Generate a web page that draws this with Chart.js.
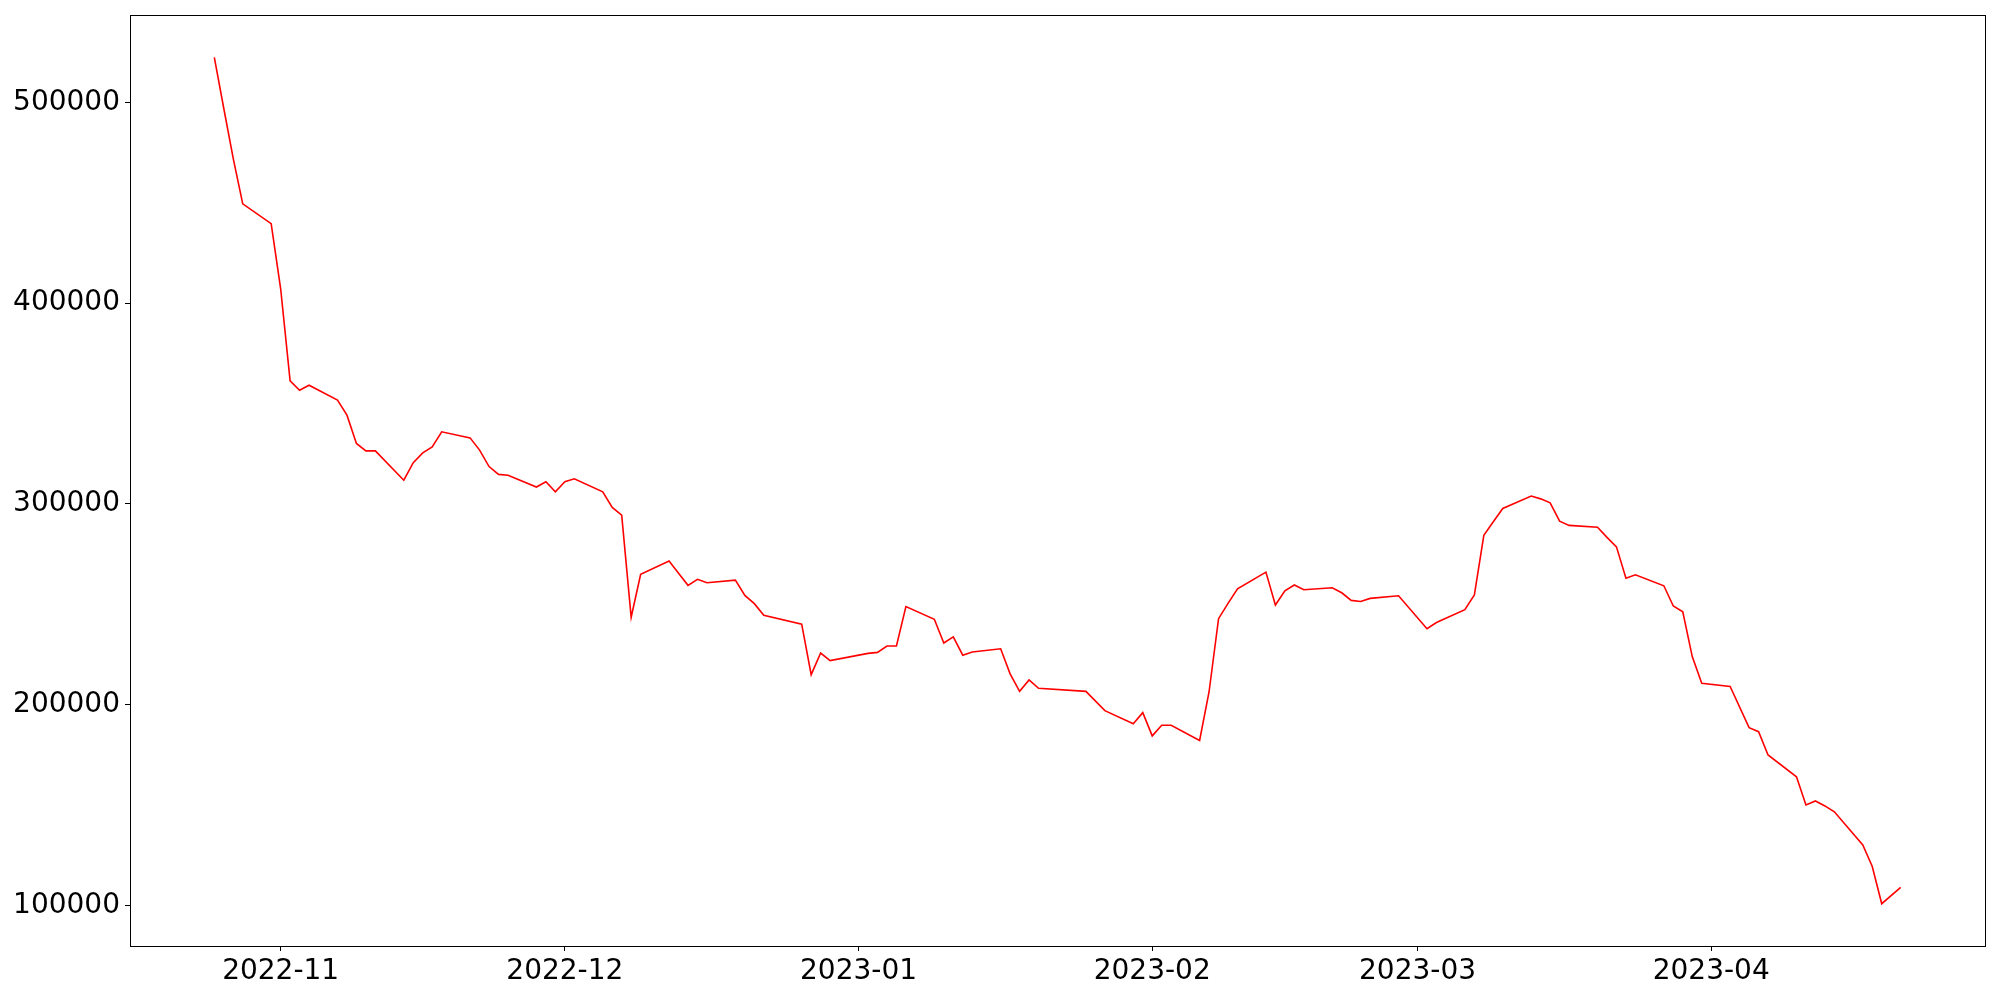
<!DOCTYPE html>
<html>
<head>
<meta charset="utf-8">
<title>Daily series</title>
<script src="https://cdn.jsdelivr.net/npm/chart.js@4/dist/chart.umd.min.js"></script>
<style>
  body { margin: 0; background: #fff; }
</style>
</head>
<body>
<canvas id="chart" width="2000" height="1000"></canvas>
<script>
// ------------------------
// Data
// ------------------------

const dates = [
  '2022-10-25', '2022-10-26', '2022-10-27', '2022-10-28', '2022-10-31',
  '2022-11-01', '2022-11-02', '2022-11-03', '2022-11-04', '2022-11-07',
  '2022-11-08', '2022-11-09', '2022-11-10', '2022-11-11', '2022-11-14',
  '2022-11-15', '2022-11-16', '2022-11-17', '2022-11-18', '2022-11-21',
  '2022-11-22', '2022-11-23', '2022-11-24', '2022-11-25', '2022-11-28',
  '2022-11-29', '2022-11-30', '2022-12-01', '2022-12-02', '2022-12-05',
  '2022-12-06', '2022-12-07', '2022-12-08', '2022-12-09', '2022-12-12',
  '2022-12-13', '2022-12-14', '2022-12-15', '2022-12-16', '2022-12-19',
  '2022-12-20', '2022-12-21', '2022-12-22', '2022-12-26', '2022-12-27',
  '2022-12-28', '2022-12-29', '2023-01-02', '2023-01-03', '2023-01-04',
  '2023-01-05', '2023-01-06', '2023-01-09', '2023-01-10', '2023-01-11',
  '2023-01-12', '2023-01-13', '2023-01-16', '2023-01-17', '2023-01-18',
  '2023-01-19', '2023-01-20', '2023-01-25', '2023-01-27', '2023-01-30',
  '2023-01-31', '2023-02-01', '2023-02-02', '2023-02-03', '2023-02-06',
  '2023-02-07', '2023-02-08', '2023-02-09', '2023-02-10', '2023-02-13',
  '2023-02-14', '2023-02-15', '2023-02-16', '2023-02-17', '2023-02-20',
  '2023-02-21', '2023-02-22', '2023-02-23', '2023-02-24', '2023-02-27',
  '2023-03-02', '2023-03-03', '2023-03-06', '2023-03-07', '2023-03-08',
  '2023-03-09', '2023-03-10', '2023-03-13', '2023-03-14', '2023-03-15',
  '2023-03-16', '2023-03-17', '2023-03-20', '2023-03-21', '2023-03-22',
  '2023-03-23', '2023-03-24', '2023-03-27', '2023-03-28', '2023-03-29',
  '2023-03-30', '2023-03-31', '2023-04-03', '2023-04-05', '2023-04-06',
  '2023-04-07', '2023-04-10', '2023-04-11', '2023-04-12', '2023-04-13',
  '2023-04-14', '2023-04-17', '2023-04-18', '2023-04-19', '2023-04-21'
];

const values = [
  522500, 497000, 472000, 449500, 439600,
  407300, 361300, 356600, 359100, 351700,
  344200, 330100, 326400, 326400, 311800,
  320500, 325400, 328400, 335900, 332900,
  326800, 318600, 314700, 314300, 308400,
  311000, 306000, 311000, 312500, 306000,
  298200, 294400, 243500, 264900, 271500,
  265400, 259400, 262400, 260700, 262000,
  254400, 250300, 244500, 240100, 214900,
  225700, 221900, 225500, 226000, 229200,
  229200, 248800, 242500, 230700, 233700,
  224600, 226200, 227800, 215300, 206600,
  212300, 208100, 206600, 197000, 190500,
  196000, 184400, 189700, 189700, 182100,
  206400, 242800, 250400, 257700, 266000,
  249600, 256700, 259600, 257200, 258200,
  255700, 251900, 251400, 252900, 254200,
  237800, 240900, 247300, 254600, 284300,
  291100, 297700, 303900, 302500, 300500,
  291400, 289300, 288400, 283300, 278600,
  263000, 264700, 259200, 249100, 246200,
  223900, 210600, 209000, 188500, 186500,
  174900, 164000, 150000, 152000, 149500,
  146600, 130100, 119300, 100800, 108900
];

const xTickLabels = ['2022-11', '2022-12', '2023-01', '2023-02', '2023-03', '2023-04'];
const yTickValues = [100000, 200000, 300000, 400000, 500000];

// ------------------------
// Helpers
// ------------------------

const DAY = 86400000;
function toDay(s) {
  const [y, m, d] = s.split('-').map(Number);
  return Date.UTC(y, m - 1, d || 1) / DAY;
}
function dayLabel(v) {
  const d = new Date(Math.round(v) * DAY);
  return d.getUTCFullYear() + '-' + String(d.getUTCMonth() + 1).padStart(2, '0');
}

const points = dates.map((d, i) => ({ x: toDay(d), y: values[i] }));
const xTicks = xTickLabels.map(toDay);

// matplotlib-like 5% margins
const xFirst = points[0].x, xLast = points[points.length - 1].x;
const xPad = (xLast - xFirst) * 0.05;
const yLo = Math.min(...values), yHi = Math.max(...values);
const yPad = (yHi - yLo) * 0.05;

// frame around the plot area (all four spines)
const framePlugin = {
  id: 'frame',
  afterDraw(chart) {
    const { ctx, chartArea: a } = chart;
    ctx.save();
    ctx.strokeStyle = '#000';
    ctx.lineWidth = 1;
    ctx.strokeRect(Math.round(a.left) + 0.5, Math.round(a.top) + 0.5,
      Math.round(a.right - a.left), Math.round(a.bottom - a.top));
    ctx.restore();
  }
};

const tickFont = { family: 'DejaVu Sans', size: 28 };

new Chart(document.getElementById('chart'), {
  type: 'line',
  data: {
    datasets: [{
      data: points,
      borderColor: '#ff0000',
      borderWidth: 1.6,
      pointRadius: 0,
      tension: 0,
      fill: false
    }]
  },
  options: {
    responsive: false,
    animation: false,
    layout: { padding: { top: 15, right: 15, left: 0, bottom: 0 } },
    plugins: {
      legend: { display: false },
      tooltip: { enabled: false }
    },
    scales: {
      x: {
        type: 'linear',
        min: xFirst - xPad,
        max: xLast + xPad,
        afterBuildTicks: s => { s.ticks = xTicks.map(v => ({ value: v })); },
        afterFit: s => { s.height = 54; s.paddingLeft = 0; s.paddingRight = 0; },
        ticks: {
          callback: v => dayLabel(v),
          color: '#000',
          font: tickFont,
          padding: 4,
          maxRotation: 0,
          autoSkip: false
        },
        grid: { drawOnChartArea: false, drawTicks: true, tickLength: 5, tickColor: '#000' },
        border: { display: false }
      },
      y: {
        type: 'linear',
        min: yLo - yPad,
        max: yHi + yPad,
        afterBuildTicks: s => { s.ticks = yTickValues.map(v => ({ value: v })); },
        afterFit: s => { s.width = 130; s.paddingTop = 0; s.paddingBottom = 0; },
        ticks: {
          callback: v => String(v),
          color: '#000',
          font: tickFont,
          padding: 5
        },
        grid: { drawOnChartArea: false, drawTicks: true, tickLength: 5, tickColor: '#000' },
        border: { display: false }
      }
    }
  },
  plugins: [framePlugin]
});
</script>
</body>
</html>
